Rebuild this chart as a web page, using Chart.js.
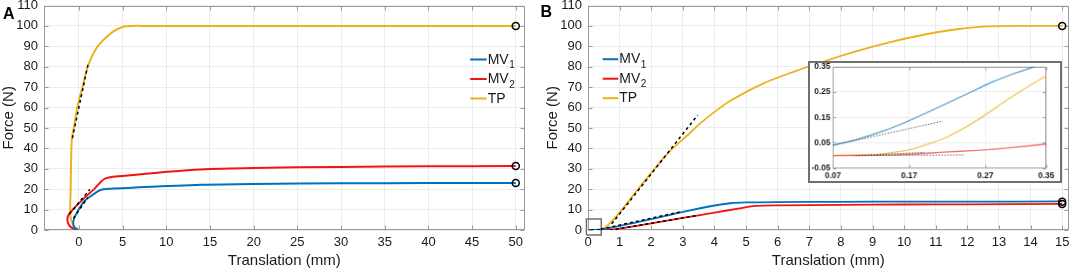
<!DOCTYPE html>
<html>
<head>
<meta charset="utf-8">
<script src="https://cdn.jsdelivr.net/npm/chart.js@4.4.1/dist/chart.umd.min.js"></script>
<style>
  html, body { margin: 0; padding: 0; background: #fff; }
  #wrap { position: relative; width: 1074px; height: 272px; overflow: hidden; }
  canvas { position: absolute; }
  #cA { left: 0; top: 0; }
  #cB { left: 530px; top: 0; }
  #cI { left: 808px; top: 61px; border: 2px solid #707070; background: #fff; }
</style>
</head>
<body>
<div id="wrap">
  <canvas id="cA" width="530" height="272"></canvas>
  <canvas id="cB" width="544" height="272"></canvas>
  <canvas id="cI" width="254" height="122"></canvas>
</div>
<script>
const seriesLabels = ['MV1', 'MV2', 'TP'];

// panel A (full range)
const aMv1X = [-0.1, -0.55, -0.65, -0.38, 0.57, 1.53, 2.47, 3.6, 10.1, 13.9, 20, 30, 40, 50];
const aMv1Y = [0, 1.5, 4.1, 7.3, 13.9, 17.1, 19.6, 20.2, 21.5, 22.2, 22.6, 22.9, 23.0, 23.0];
const aMv2X = [-0.1, -0.7, -1.14, -1.32, -1.2, -0.57, 0.57, 1.71, 3.04, 6.27, 10.1, 13.9, 20, 30, 40, 50];
const aMv2Y = [0, 0.8, 2.4, 4.9, 7.3, 10.6, 15.5, 19.9, 25.3, 26.9, 28.5, 29.7, 30.4, 30.9, 31.2, 31.3];
const aTpX = [-0.1, -0.6, -0.95, -1.0, -0.95, -0.9, -0.8, -0.5, -0.2, 0.4, 1.0, 2.1, 3.6, 4.5, 5.3, 6, 8, 50];
const aTpY = [0, 2, 6, 11, 20, 34, 45, 52, 60, 70, 80, 89.7, 96.3, 98.6, 99.8, 100, 100, 100];
const aTangentMv1 = [[-0.64, 5.7], [1.03, 16]];
const aTangentMv2 = [[-1.1, 7.8], [1.25, 19.9]];
const aTangentTp = [[-0.75, 45], [1.03, 81]];
const aEnds = [[50, 23.0], [50, 31.3], [50, 100]];
const aXTicks = [0, 5, 10, 15, 20, 25, 30, 35, 40, 45, 50];

// panel B (0 - 15 mm)
const bMv1X = [0, 0.2, 0.47, 1, 2, 3, 4, 4.5, 5, 6, 8, 10, 12, 15];
const bMv1Y = [0, 0.05, 0.3, 2, 5.3, 8.9, 12, 13.1, 13.5, 13.7, 13.8, 13.9, 13.9, 14];
const bMv2X = [0, 0.2, 0.47, 1, 2, 3, 4, 4.8, 5.3, 6, 8, 10, 12, 15];
const bMv2Y = [0, 0, 0, 0.7, 3.2, 5.9, 8.5, 10.6, 11.8, 12.1, 12.3, 12.5, 12.6, 12.8];
const bTpX = [0, 0.2, 0.42, 0.63, 1.0, 1.53, 2.05, 2.58, 3.21, 3.53, 4.15, 4.53, 5.5, 6.5, 7.5, 8.5, 9.5, 10.5, 11.5, 12.5, 13.5, 15];
const bTpY = [0, 0, 0.3, 2.4, 8.5, 19, 29, 38.5, 47.3, 52, 59.6, 63.6, 71.5, 77.5, 82.8, 87.6, 91.8, 95.3, 98, 99.6, 100, 100];
const bTangentMv1 = [[0.4, 0.4], [2.9, 8.8]];
const bTangentMv2 = [[0.5, -0.6], [3.5, 7.2]];
const bTangentTp = [[0.75, 3], [3.47, 56.3]];
const bTangentStart = [[0.1, 0], [0.37, 0.1]];
const bZoomBox = [[-0.05, -2.4], [0.42, -2.4], [0.42, 5.4], [-0.05, 5.4], [-0.05, -2.4]];
const bEnds = [[15, 13.9], [15, 12.7], [15, 100]];
const bXTicks = [0, 1, 2, 3, 4, 5, 6, 7, 8, 9, 10, 11, 12, 13, 14, 15];

// inset of panel B
const inMv1X = [0.07, 0.10, 0.13, 0.16, 0.19, 0.22, 0.25, 0.28, 0.31, 0.335];
const inMv1Y = [0.04, 0.062, 0.09, 0.124, 0.164, 0.206, 0.248, 0.29, 0.325, 0.35];
const inMv2X = [0.07, 0.13, 0.173, 0.216, 0.259, 0.302, 0.35];
const inMv2Y = [0, 0.001, 0.005, 0.013, 0.02, 0.03, 0.045];
const inTpX = [0.07, 0.13, 0.173, 0.216, 0.259, 0.302, 0.35];
const inTpY = [0, 0.004, 0.025, 0.068, 0.138, 0.226, 0.314];
const inTangentMv1 = [[0.07, 0.04], [0.214, 0.135]];
const inTangentTp = [[0.1, 0], [0.19, 0.012]];
const inTangentMv2 = [[0.1, 0], [0.242, 0.002]];
const inXTicks = [0.07, 0.17, 0.27, 0.35];
const inYTicks = [-0.05, 0.05, 0.15, 0.25, 0.35];

const yTicks = [0, 10, 20, 30, 40, 50, 60, 70, 80, 90, 100, 110];

const FONT = "'Liberation Sans', Arial, sans-serif";
const TEXT = '#1a1a1a';
const BLUE = '#0072BD';
const RED = '#F01414';
const YELLOW = '#EDB120';

function pts(xs, ys) { return xs.map((x, i) => ({ x: x, y: ys[i] })); }
function pairs(p) { return p.map(d => ({ x: d[0], y: d[1] })); }

// fixed axis sizes so the plot areas land where the reference has them
function fixWidth(w) {
  return s => { s.width = w; s.paddingTop = 0; s.paddingBottom = 0; };
}
function fixHeight(h) {
  return s => { s.height = h; s.paddingLeft = 0; s.paddingRight = 0; };
}

const framePlugin = {
  id: 'frame',
  beforeDatasetsDraw(chart, args, opts) {
    const { ctx, chartArea: a, scales } = chart;
    const l = Math.round(a.left) + 0.5, r = Math.round(a.right) - 0.5;
    const t = Math.round(a.top) + 0.5, b = Math.round(a.bottom) - 0.5;
    ctx.save();
    ctx.strokeStyle = opts.color;
    ctx.lineWidth = 1;
    ctx.strokeRect(l, t, r - l, b - t);
    ctx.beginPath();
    scales.x.ticks.forEach(tk => {
      const px = Math.round(scales.x.getPixelForValue(tk.value)) + 0.5;
      ctx.moveTo(px, b); ctx.lineTo(px, b - opts.tickLen);
      ctx.moveTo(px, t); ctx.lineTo(px, t + opts.tickLen);
    });
    scales.y.ticks.forEach(tk => {
      const py = Math.round(scales.y.getPixelForValue(tk.value)) + 0.5;
      ctx.moveTo(l, py); ctx.lineTo(l + opts.tickLen, py);
      ctx.moveTo(r, py); ctx.lineTo(r - opts.tickLen, py);
    });
    ctx.stroke();
    ctx.restore();
  },
  afterDraw(chart, args, opts) {
    const { ctx, chartArea: a } = chart;
    ctx.save();
    if (opts.letter) {
      ctx.fillStyle = '#000';
      ctx.font = 'bold 16px ' + FONT;
      ctx.textBaseline = 'alphabetic';
      ctx.fillText(opts.letter, opts.letterX, opts.letterY);
    }
    if (opts.legend) {
      const L = opts.legend;
      const x0 = L.fromRight ? a.right - L.dx : a.left + L.dx;
      L.items.forEach((idx, i) => {
        const ds = chart.data.datasets[idx];
        const y = a.top + L.dy + i * L.gap;
        ctx.strokeStyle = ds.borderColor;
        ctx.lineWidth = 2;
        ctx.beginPath();
        ctx.moveTo(x0, y); ctx.lineTo(x0 + L.len, y);
        ctx.stroke();
        const m = ds.label.match(/^(\D+)(\d*)$/);
        ctx.fillStyle = TEXT;
        ctx.font = '14px ' + FONT;
        ctx.fillText(m[1], x0 + L.len + 1, y + 4);
        if (m[2]) {
          const w = ctx.measureText(m[1]).width;
          ctx.font = '10px ' + FONT;
          ctx.fillText(m[2], x0 + L.len + 1 + w + 0.5, y + 8.5);
        }
      });
    }
    ctx.restore();
  }
};

function lineDs(label, data, color, width) {
  return { label: label, data: data, borderColor: color, backgroundColor: color, borderWidth: width,
    showLine: true, pointRadius: 0, tension: 0.3, order: 3 };
}
function dashDs(data, color, width, dash) {
  return { label: '', data: data, borderColor: color, borderWidth: width, borderDash: dash,
    showLine: true, pointRadius: 0, tension: 0, order: 1 };
}
function endDs(data) {
  return { label: '', data: data, showLine: false, pointRadius: 3.5, pointBorderWidth: 1.5,
    pointBorderColor: '#000', pointBackgroundColor: 'rgba(255,255,255,0)', order: 0 };
}

function mainScales(xTicks, xMin, xMax) {
  return {
    x: {
      type: 'linear', min: xMin, max: xMax,
      afterBuildTicks: s => { s.ticks = xTicks.map(v => ({ value: v })); },
      afterFit: fixHeight(42),
      grid: { color: '#ececec', lineWidth: 1, drawTicks: false },
      border: { display: false },
      ticks: { color: TEXT, font: { family: FONT, size: 13 }, padding: 5, maxRotation: 0, autoSkip: false,
        callback: v => String(v) },
      title: { display: true, text: 'Translation (mm)', color: TEXT, font: { family: FONT, size: 15 },
        padding: { top: 0, bottom: 2 } }
    },
    y: {
      type: 'linear', min: 0, max: 110,
      afterBuildTicks: s => { s.ticks = yTicks.map(v => ({ value: v })); },
      afterFit: fixWidth(44),
      grid: { color: '#ececec', lineWidth: 1, drawTicks: false },
      border: { display: false },
      ticks: { color: TEXT, font: { family: FONT, size: 13 }, padding: 6, autoSkip: false,
        callback: v => String(v) },
      title: { display: true, text: 'Force (N)', color: TEXT, font: { family: FONT, size: 15 },
        padding: { top: 0, bottom: 0 } }
    }
  };
}

const baseOpts = {
  responsive: false, animation: false, events: [],
  plugins: { legend: { display: false }, tooltip: { enabled: false } }
};

// chart A
new Chart(document.getElementById('cA'), {
  type: 'scatter',
  data: {
    datasets: [
      lineDs(seriesLabels[0], pts(aMv1X, aMv1Y), BLUE, 2),
      lineDs(seriesLabels[1], pts(aMv2X, aMv2Y), RED, 2),
      lineDs(seriesLabels[2], pts(aTpX, aTpY), YELLOW, 2),
      dashDs(pairs(aTangentMv1), '#000', 1.5, [3, 3]),
      dashDs(pairs(aTangentMv2), '#000', 1.5, [3, 3]),
      dashDs(pairs(aTangentTp), '#000', 1.5, [3, 3]),
      endDs(pairs(aEnds))
    ]
  },
  options: Object.assign({}, baseOpts, {
    layout: { padding: { left: 0, top: 5, right: 4, bottom: 0 } },
    scales: mainScales(aXTicks, -4, 51),
    plugins: Object.assign({}, baseOpts.plugins, {
      frame: { color: '#9a9a9a', tickLen: 4, letter: 'A', letterX: 3, letterY: 18.5,
        legend: { items: [0, 1, 2], fromRight: true, dx: 54.3, dy: 54, gap: 19.5, len: 16.5 } }
    })
  }),
  plugins: [framePlugin]
});

// chart B
new Chart(document.getElementById('cB'), {
  type: 'scatter',
  data: {
    datasets: [
      lineDs(seriesLabels[0], pts(bMv1X, bMv1Y), BLUE, 1.8),
      lineDs(seriesLabels[1], pts(bMv2X, bMv2Y), RED, 1.8),
      lineDs(seriesLabels[2], pts(bTpX, bTpY), YELLOW, 1.8),
      dashDs(pairs(bTangentMv1), '#000', 1.5, [3, 3]),
      dashDs(pairs(bTangentMv2), '#000', 1.5, [3, 3]),
      dashDs(pairs(bTangentTp), '#000', 1.5, [3, 3]),
      dashDs(pairs(bTangentStart), '#000', 1.5, [3, 3]),
      Object.assign(dashDs(pairs(bZoomBox), '#707070', 1.5, []), { clip: false, order: 2 }),
      endDs(pairs(bEnds))
    ]
  },
  options: Object.assign({}, baseOpts, {
    layout: { padding: { left: 14, top: 5, right: 4.5, bottom: 0 } },
    scales: mainScales(bXTicks, 0, 15.2),
    plugins: Object.assign({}, baseOpts.plugins, {
      frame: { color: '#9a9a9a', tickLen: 4, letter: 'B', letterX: 10.5, letterY: 16.5,
        legend: { items: [0, 1, 2], fromRight: false, dx: 14.7, dy: 53.7, gap: 19.5, len: 15.6 } }
    })
  }),
  plugins: [framePlugin]
});

// inset
new Chart(document.getElementById('cI'), {
  type: 'scatter',
  data: {
    datasets: [
      Object.assign(lineDs(seriesLabels[0], pts(inMv1X, inMv1Y), 'rgba(0,114,189,0.7)', 1.3), { tension: 0.2 }),
      Object.assign(lineDs(seriesLabels[1], pts(inMv2X, inMv2Y), 'rgba(240,20,20,0.6)', 1.3), { tension: 0.2 }),
      Object.assign(lineDs(seriesLabels[2], pts(inTpX, inTpY), 'rgba(237,177,32,0.75)', 1.3), { tension: 0.2 }),
      dashDs(pairs(inTangentMv1), 'rgba(60,60,60,0.8)', 1, [1.5, 1.5]),
      dashDs(pairs(inTangentTp), 'rgba(60,60,60,0.8)', 1, [1.5, 1.5]),
      dashDs(pairs(inTangentMv2), 'rgba(60,60,60,0.8)', 1, [1.5, 1.5])
    ]
  },
  options: Object.assign({}, baseOpts, {
    layout: { padding: { left: 0, top: 3.7, right: 14, bottom: 0 } },
    scales: {
      x: {
        type: 'linear', min: 0.07, max: 0.35,
        afterBuildTicks: s => { s.ticks = inXTicks.map(v => ({ value: v })); },
        afterFit: fixHeight(13.3),
        grid: { color: '#ececec', drawTicks: false },
        border: { display: false },
        ticks: { color: TEXT, font: { family: FONT, size: 8.5, weight: 'bold' }, padding: 3, maxRotation: 0,
          autoSkip: false, callback: v => v.toFixed(2) }
      },
      y: {
        type: 'linear', min: -0.05, max: 0.35,
        afterBuildTicks: s => { s.ticks = inYTicks.map(v => ({ value: v })); },
        afterFit: fixWidth(23.3),
        grid: { color: '#ececec', drawTicks: false },
        border: { display: false },
        ticks: { color: TEXT, font: { family: FONT, size: 8.5, weight: 'bold' }, padding: 2.5,
          autoSkip: false, callback: v => v.toFixed(2) }
      }
    },
    plugins: Object.assign({}, baseOpts.plugins, {
      frame: { color: '#9a9a9a', tickLen: 3 }
    })
  }),
  plugins: [framePlugin]
});
</script>
</body>
</html>
